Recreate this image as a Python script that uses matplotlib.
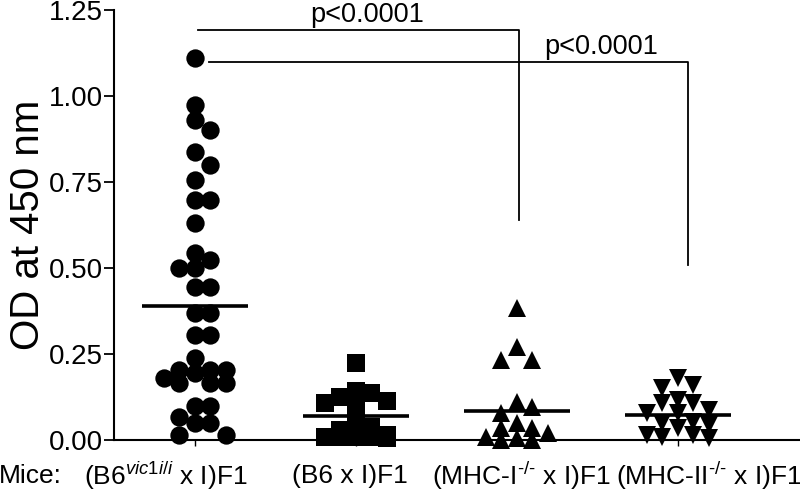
import numpy as np
import matplotlib
matplotlib.use("Agg")
import matplotlib.pyplot as plt

plt.rcParams['font.family'] = ['Liberation Sans', 'DejaVu Sans']
plt.rcParams['mathtext.fontset'] = 'custom'
plt.rcParams['mathtext.rm'] = 'Liberation Sans'
plt.rcParams['mathtext.it'] = 'Liberation Sans:italic'

# ---- data ----
groups = [r'(B6$^{\mathit{vic1i/i}}$ x I)F1', '(B6 x I)F1',
          r'(MHC-I$^{\text{-/-}}$ x I)F1', r'(MHC-II$^{\text{-/-}}$ x I)F1']
vic1_values = [1.11, 0.974, 0.93, 0.90, 0.837, 0.80, 0.756, 0.698, 0.698, 0.63,
               0.543, 0.523, 0.50, 0.50, 0.445, 0.445, 0.37, 0.37, 0.305, 0.305,
               0.238, 0.203, 0.18, 0.195, 0.203, 0.203, 0.166, 0.166, 0.166,
               0.10, 0.10, 0.067, 0.05, 0.05, 0.015, 0.015]
b6_values = [0.224, 0.143, 0.136, 0.125, 0.113, 0.107, 0.093, 0.052, 0.038,
             0.03, 0.015, 0.01, 0.01, 0.005, 0.01, 0.01]
mhc1_values = [0.384, 0.27, 0.233, 0.233, 0.11, 0.096, 0.078, 0.05, 0.035,
               0.035, 0.02, 0.01, 0.0, 0.0, 0.005]
mhc2_values = [0.18, 0.16, 0.15, 0.116, 0.107, 0.107, 0.087, 0.078, 0.078,
               0.052, 0.05, 0.045, 0.035, 0.015, 0.01, 0.015, 0.006]
group_means = [0.39, 0.07, 0.085, 0.073]
p_labels = ['p<0.0001', 'p<0.0001']
y_ticks = [0.00, 0.25, 0.50, 0.75, 1.00, 1.25]

series = [vic1_values, b6_values, mhc1_values, mhc2_values]
markers = ['o', 's', '^', 'v']
msizes = [13.2, 13.0, 13.5, 13.5]

fig = plt.figure(figsize=(8, 4.92), dpi=100)
ax = fig.add_axes([0.1425, 0.1057, 0.8575, 0.8740])
ax.set_xlim(-0.503, 3.758)
ax.set_ylim(0, 1.25)

fig.canvas.draw()


def swarm_x(values, center, diam_px, step_px, max_steps):
    """Simple beeswarm layout in pixel space; returns x positions in data units."""
    trans = ax.transData
    ypx = [trans.transform((center, v))[1] for v in values]
    xc_px = trans.transform((center, 0))[0]
    order = np.argsort(ypx)[::-1]
    cands = [0.0]
    for n in range(1, max_steps + 1):
        cands += [n * step_px, -n * step_px]
    placed = []
    offs = [0.0] * len(values)
    for i in order:
        y = ypx[i]
        best, best_d = None, -1
        chosen = None
        for off in cands:
            d = min([np.hypot(px - off, py - y) for (px, py) in placed] or [1e9])
            if d >= diam_px * 0.78:
                chosen = off
                break
            if d > best_d:
                best, best_d = off, d
        if chosen is None:
            chosen = best
        placed.append((chosen, y))
        offs[i] = chosen
    inv = trans.inverted()
    return [inv.transform((xc_px + o, 0))[0] for o in offs]


for gi, vals in enumerate(series):
    xs = swarm_x(vals, gi, 18.0, 15.5, 2)
    ax.plot(xs, vals, linestyle='none', marker=markers[gi], ms=msizes[gi],
            color='black', markeredgewidth=0, clip_on=False, zorder=3)
    ax.plot([gi - 0.33, gi + 0.33], [group_means[gi], group_means[gi]],
            color='black', lw=2.6, solid_capstyle='butt', zorder=4)

# significance brackets
ax.plot([0.02, 2.01, 2.01], [1.192, 1.192, 0.64], color='black', lw=1.3,
        clip_on=False)
ax.plot([0.09, 3.06, 3.06], [1.10, 1.10, 0.51], color='black', lw=1.3,
        clip_on=False)
ax.text(1.07, 1.198, p_labels[0], ha='center', va='bottom', fontsize=19.5)
ax.text(2.52, 1.106, p_labels[1], ha='center', va='bottom', fontsize=19.5)

# axes styling
for s in ['top', 'right']:
    ax.spines[s].set_visible(False)
ax.spines['left'].set_linewidth(1.5)
ax.spines['bottom'].set_linewidth(1.5)
ax.set_yticks(y_ticks)
ax.set_yticklabels([f'{t:.2f}' for t in y_ticks], fontsize=20)
ax.tick_params(axis='y', length=7, width=1.3, pad=1)
ax.set_xticks(range(4))
ax.set_xticklabels([''] * 4)
ax.tick_params(axis='x', length=4, width=1.0)
ax.set_ylabel('OD at 450 nm', fontsize=29, labelpad=1)

# x category labels
label_x = [-0.18, 0.963, 2.03, 3.19]
for lx, lab in zip(label_x, groups):
    ax.text(lx, -0.105, lab, ha='center', va='center', fontsize=19,
            clip_on=False)
ax.text(-1.02, -0.105, 'Mice:', ha='center', va='center', fontsize=19,
        clip_on=False)

fig.savefig('out.png', dpi=100)
